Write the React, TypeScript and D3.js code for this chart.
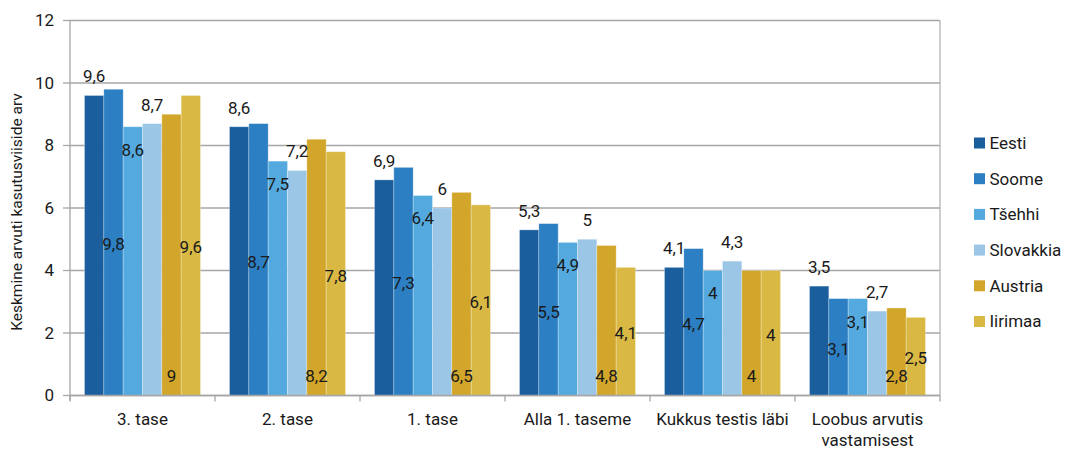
import React from "react";
import * as d3 from "d3";

const categories = ["3. tase", "2. tase", "1. tase", "Alla 1. taseme", "Kukkus testis läbi", "Loobus arvutis vastamisest"];
const seriesNames = ["Eesti", "Soome", "Tšehhi", "Slovakkia", "Austria", "Iirimaa"];
const eesti = [9.6, 8.6, 6.9, 5.3, 4.1, 3.5];
const soome = [9.8, 8.7, 7.3, 5.5, 4.7, 3.1];
const tsehhi = [8.6, 7.5, 6.4, 4.9, 4.0, 3.1];
const slovakkia = [8.7, 7.2, 6.0, 5.0, 4.3, 2.7];
const austria = [9.0, 8.2, 6.5, 4.8, 4.0, 2.8];
const iirimaa = [9.6, 7.8, 6.1, 4.1, 4.0, 2.5];
const yTicks = [0, 2, 4, 6, 8, 10, 12];
const colors = ["#1b5e9e", "#2b7fc2", "#54aadf", "#9cc6e6", "#d2a62a", "#d9b944"];
// label placement per series (as in the source chart)
const labelPos = ["outEnd", "center", "inEnd", "outEnd", "inBase", "center"];

const seriesValues = [eesti, soome, tsehhi, slovakkia, austria, iirimaa];

const W = 1065, H = 450;
const left = 70, right = 940, top = 20.5, bottom = 395.5;
const FONT = "Roboto, 'Noto Sans', sans-serif";
const FS = 17;

export default function App() {
  const x0 = d3.scaleBand<string>().domain(categories).range([left, right]).paddingInner(0).paddingOuter(0);
  const bw = x0.bandwidth();
  const x1 = d3.scaleBand<string>().domain(seriesNames).range([bw * 0.1, bw * 0.9]).padding(0);
  const y = d3.scaleLinear().domain([0, 12]).range([bottom, top]);
  const fmt = (v: number) => String(v).replace(".", ",");

  const labelY = (pos: string, v: number) => {
    const yt = y(v), yb = y(0);
    if (pos === "outEnd") return yt - 19;
    if (pos === "inEnd") return yt + 23;
    if (pos === "inBase") return yb - 19.5;
    return (yt + yb) / 2 + 2;
  };

  const splitCat = (c: string) => (c === "Loobus arvutis vastamisest" ? ["Loobus arvutis", "vastamisest"] : [c]);

  return (
    <svg width={W} height={H} style={{ position: "absolute", left: 0, top: 0, background: "#fff" }} fontFamily={FONT}>
      {/* gridlines */}
      {yTicks.map((t) => (
        <line key={"g" + t} x1={left} x2={right} y1={y(t)} y2={y(t)} stroke="#a6a6a6" strokeWidth={1.3} />
      ))}
      {/* right border */}
      <line x1={right} x2={right} y1={top} y2={bottom} stroke="#b4b4b4" strokeWidth={1.3} />
      {/* bars */}
      {categories.map((c, ci) => (
        <g key={c} transform={`translate(${x0(c)},0)`}>
          {seriesNames.map((s, si) => {
            const v = seriesValues[si][ci];
            return (
              <rect key={s} x={x1(s)} y={y(v)} width={x1.bandwidth()} height={y(0) - y(v)}
                fill={colors[si]} stroke="rgba(255,255,255,0.35)" strokeWidth={0.8} />
            );
          })}
        </g>
      ))}
      {/* y axis */}
      <line x1={left} x2={left} y1={top} y2={bottom + 5} stroke="#a6a6a6" strokeWidth={1.3} />
      {yTicks.map((t) => (
        <g key={"t" + t}>
          <line x1={left - 7} x2={left} y1={y(t)} y2={y(t)} stroke="#a6a6a6" strokeWidth={1.3} />
          <text x={54} y={y(t)} dy="0.35em" textAnchor="end" fontSize={FS} fill="#1a1a1a">{t}</text>
        </g>
      ))}
      {/* x axis */}
      <line x1={left} x2={right} y1={bottom} y2={bottom} stroke="#a6a6a6" strokeWidth={1.3} />
      {categories.map((c, i) => (
        <line key={"xt" + i} x1={x0(c)!} x2={x0(c)!} y1={bottom} y2={bottom + 6} stroke="#a6a6a6" strokeWidth={1.3} />
      ))}
      <line x1={right} x2={right} y1={bottom} y2={bottom + 6} stroke="#a6a6a6" strokeWidth={1.3} />
      {categories.map((c) => (
        <text key={"cl" + c} x={x0(c)! + bw / 2} y={425} textAnchor="middle" fontSize={FS} fill="#1a1a1a">
          {splitCat(c).map((line, li) => (
            <tspan key={li} x={x0(c)! + bw / 2} dy={li === 0 ? 0 : 21}>{line}</tspan>
          ))}
        </text>
      ))}
      {/* data labels */}
      {categories.map((c, ci) => (
        <g key={"dl" + c} transform={`translate(${x0(c)},0)`}>
          {seriesNames.map((s, si) => {
            const v = seriesValues[si][ci];
            return (
              <text key={s} x={x1(s)! + x1.bandwidth() / 2} y={labelY(labelPos[si], v)} dy="0.35em"
                textAnchor="middle" fontSize={FS} fill="#1a1a1a">{fmt(v)}</text>
            );
          })}
        </g>
      ))}
      {/* y title */}
      <text transform={`translate(17,212) rotate(-90)`} textAnchor="middle" fontSize={15.5} fill="#1a1a1a" dy="0.35em">
        Keskmine arvuti kasutusviiside arv
      </text>
      {/* legend */}
      {seriesNames.map((s, i) => {
        const cy = 143 + i * 35.7;
        return (
          <g key={"lg" + s}>
            <rect x={974} y={cy - 5.5} width={11} height={11} fill={colors[i]} />
            <text x={989.5} y={cy} dy="0.35em" fontSize={FS} fill="#1a1a1a">{s}</text>
          </g>
        );
      })}
    </svg>
  );
}
